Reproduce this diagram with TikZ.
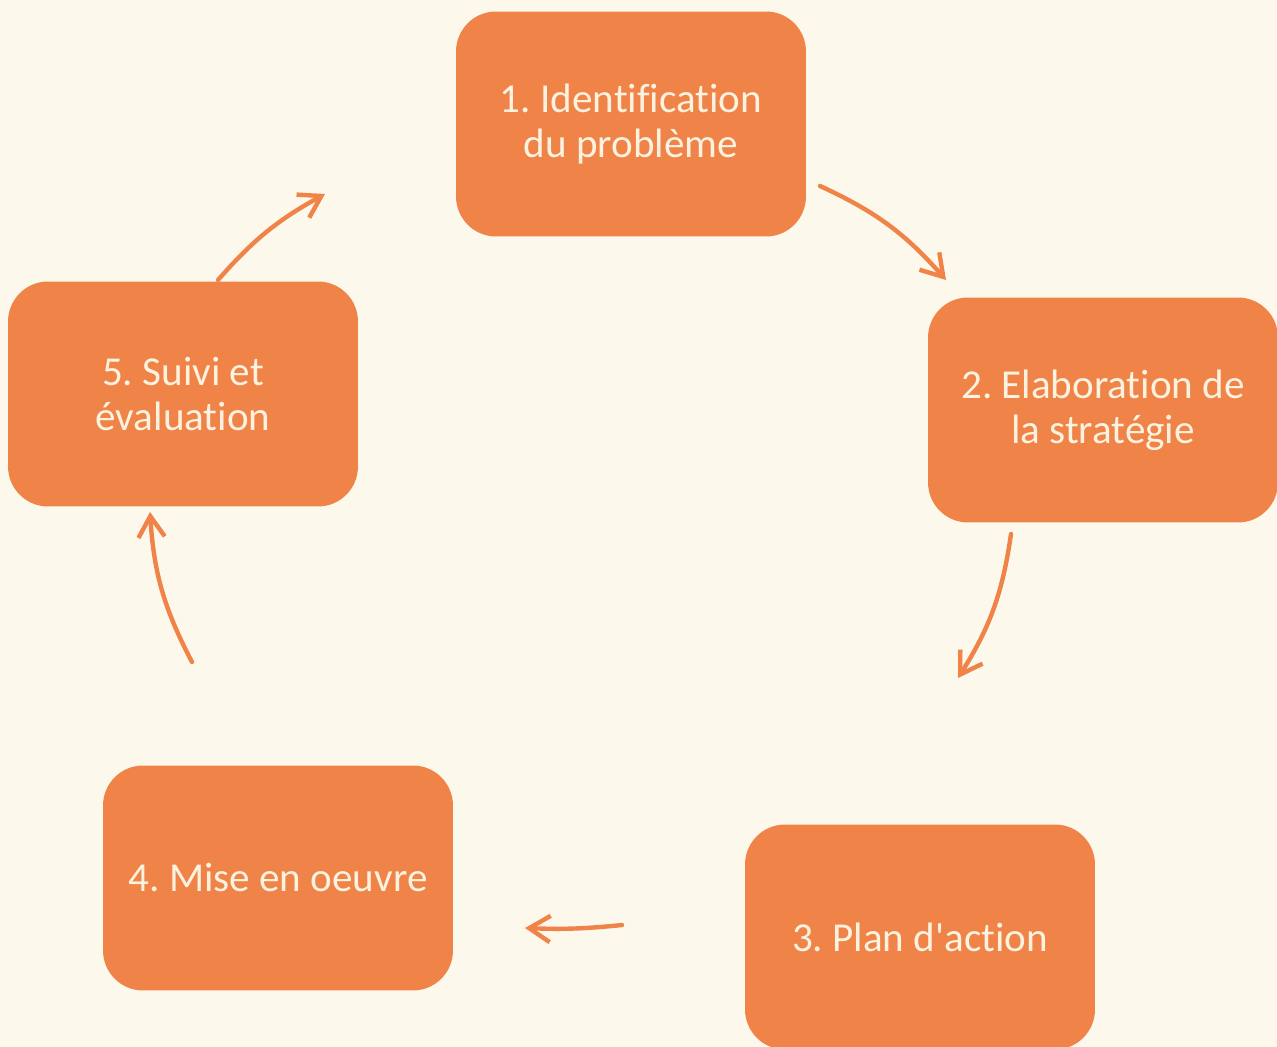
\documentclass[tikz,border=0pt]{standalone}
\usepackage{fontspec}
\setmainfont{Carlito}[Ligatures={NoCommon}]
\usetikzlibrary{arrows.meta, positioning}
\definecolor{cream}{RGB}{252,248,235}
\definecolor{paper}{RGB}{251,242,224}
\definecolor{tangerine}{RGB}{240,131,71}
\frenchspacing

\begin{document}
\begin{tikzpicture}[
         x=0.02cm, y=-0.02cm,
         stage/.style={rectangle, rounded corners=0.8cm, fill=tangerine,
            minimum width=7cm, minimum height=4.5cm, align=center,
            text=paper, font=\fontsize{23.4}{25.5}\selectfont},
         cycle/.style={draw=tangerine, line width=2.5pt, line cap=round,
            -{Straight Barb[length=12pt, width=15pt, line width=2.5pt]}}
      ]
         % Background
         \fill[cream] (0,0) rectangle (1277,1047);
         \useasboundingbox (0,0) rectangle (1277,1047);

         % Stages of the cycle
         \node[stage] (ident) at (631,124) {1. Identification\\du problème};
         \node[stage] (strat) at (1103,410) {2. Elaboration de\\la stratégie};
         \node[stage] (plan) at (920,937) {3. Plan d\textquotesingle action};
         \node[stage] (mise) at (278,878) {4. Mise en oeuvre};
         \node[stage] (suivi) at (183,394) {5. Suivi et\\évaluation};

         % Arrow ends
         \coordinate (a1) at (820,186);
         \coordinate (a2) at (946,280);
         \coordinate (b1) at (1011,534);
         \coordinate (b2) at (958,678);
         \coordinate (c1) at (622,925);
         \coordinate (c2) at (525,928);
         \coordinate (d1) at (192,662);
         \coordinate (d2) at (150,512);
         \coordinate (e1) at (218,280);
         \coordinate (e2) at (325,194);

         % Arrows
         \draw[cycle] (a1) to[bend left=12] (a2);
         \draw[cycle] (b1) to[bend left=12] (b2);
         \draw[cycle] (c1) to[bend left=4] (c2);
         \draw[cycle] (d1) to[bend left=12] (d2);
         \draw[cycle] (e1) to[bend left=10] (e2);

      \end{tikzpicture}
\end{document}
